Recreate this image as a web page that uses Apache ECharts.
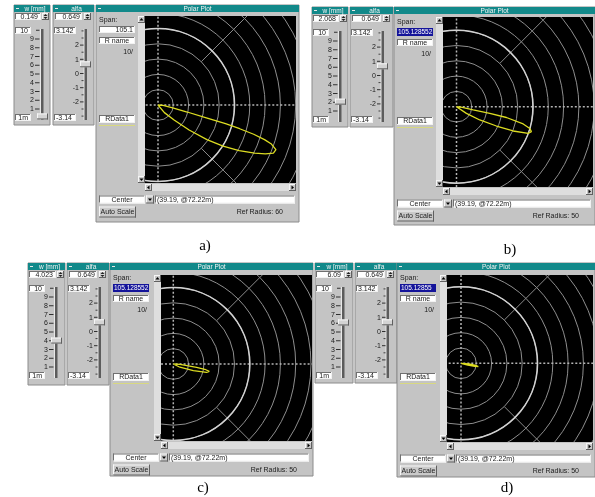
<!DOCTYPE html>
<html><head><meta charset="utf-8">
<script src="https://cdn.jsdelivr.net/npm/echarts@6/dist/echarts.min.js"></script>
<style>
html,body{margin:0;padding:0;background:#fff;width:595px;height:497px;overflow:hidden;}
#main{position:absolute;left:0;top:0;width:595px;height:497px;}
.plot{position:absolute;}
</style></head><body>
<div id="main"></div>
<script>
// ---------------- data ----------------
const captions = ['a)', 'b)', 'c)', 'd)'];
const wValues = [0.149, 2.068, 4.023, 6.09];
const wTexts = ['0.149', '2.068', '4.023', '6.09'];
const alfaValues = [0.649, 0.649, 0.649, 0.649];
const alfaTexts = ['0.649', '0.649', '0.649', '0.649'];
const spanTexts = ['105.1', '105.128552', '105.128552', '105.12855'];
const refRadiusTexts = ['Ref Radius: 60', 'Ref Radius: 50', 'Ref Radius: 50', 'Ref Radius: 50'];
const cursorTexts = ['(39.19, @72.22m)', '(39.19, @72.22m)', '(39.19, @72.22m)', '(39.19, @72.22m)'];
const wTickLabels = ['9', '8', '7', '6', '5', '4', '3', '2', '1'];
const wTickValues = [9, 8, 7, 6, 5, 4, 3, 2, 1];
const alfaTickLabels = ['2', '1', '0', '-1', '-2'];
const alfaTickValues = [2, 1, 0, -1, -2];
// lobes: [radius, angle in degrees]
const lobeA = [[0,0],[3.3,-5],[9.8,-11],[19.6,-13.5],[32.7,-14.8],[45.8,-15.5],[55.6,-16.2],[65.4,-17],[73.2,-18],[78.4,-19],[82.4,-20.7],[81.7,-22.6],[77.1,-24.5],[70.6,-26.5],[60.8,-29.3],[50.3,-32.3],[39.2,-35.3],[26.1,-38.8],[14.4,-43],[6.5,-50],[0,0]];
const lobeB = [[0,0],[3,-6],[11.1,-11],[22.2,-11.5],[33.4,-12.2],[45,-14.5],[50,-16.5],[51.6,-18.4],[50,-20.4],[40.3,-23.2],[29,-25.8],[17.5,-29.7],[7.8,-34],[0,0]];
const lobeC = [[0,0],[4.4,-4],[15.4,-8],[20.9,-9.5],[24,-11.5],[22.4,-14],[13.8,-18.4],[4.8,-26],[0,0]];
const lobeD = [[0,0],[5.2,-5],[9.8,-8],[11.5,-10.8],[9.2,-13],[4.6,-15],[0,0]];
const lobes = [lobeA, lobeB, lobeC, lobeD];

// ---------------- layout ----------------
const layout = [
 {w:{x:14,y:5,w:36,h:120}, al:{x:53,y:5,w:41,h:120}, pp:{x:96,y:5,w:203,bottom:222}, blk:{x:145,y:16,w:151,h:167}, c:[158,105], cap:[205,246]},
 {w:{x:312,y:7,w:36,h:120}, al:{x:350,y:7,w:43,h:120}, pp:{x:394,y:7,w:201,bottom:225}, blk:{x:443,y:17,w:150,h:170}, c:[456.5,106.7], cap:[510,250]},
 {w:{x:28,y:263,w:37,h:122}, al:{x:67,y:263,w:42,h:122}, pp:{x:110,y:263,w:203,bottom:476}, blk:{x:161,y:275,w:151,h:166}, c:[173.3,364], cap:[203,488]},
 {w:{x:315,y:263,w:38,h:120}, al:{x:355,y:263,w:42,h:120}, pp:{x:397,y:263,w:198,bottom:477}, blk:{x:447,y:275,w:146,h:167}, c:[461,363.3], cap:[507,488]}
];
const GRAY = '#c4c4c4', TEAL = '#12898a', FONT = '7px "Liberation Sans", Arial, sans-serif';

const G = [];
function rect(x,y,w,h,fill,stroke){G.push({type:'rect',silent:true,shape:{x:x,y:y,width:w,height:h},style:{fill:fill||'none',stroke:stroke||null,lineWidth:1}});}
function line(x1,y1,x2,y2,stroke,lw){G.push({type:'line',silent:true,shape:{x1:x1,y1:y1,x2:x2,y2:y2},style:{stroke:stroke,lineWidth:lw||1}});}
function poly(pts,fill){G.push({type:'polygon',silent:true,shape:{points:pts},style:{fill:fill}});}
function txt(x,y,s,o){o=o||{};const a=o.align||'left';G.push({type:'text',silent:true,style:{text:s,x:x,y:y,fill:o.fill||'#1a1a1a',font:o.font||FONT,align:a,verticalAlign:'middle',textAlign:a,textVerticalAlign:'middle'}});}
function box3d(x,y,w,h,fill,sunken){
  rect(x,y,w,h,fill);
  const tl = sunken ? '#707070' : '#f6f6f6';
  const br = sunken ? '#f2f2f2' : '#606060';
  line(x,y+0.5,x+w,y+0.5,tl); line(x+0.5,y,x+0.5,y+h,tl);
  line(x,y+h-0.5,x+w,y+h-0.5,br); line(x+w-0.5,y,x+w-0.5,y+h,br);
}
function titleBar(x,y,w,title,cx){
  rect(x,y,w,7,TEAL);
  line(x+2,y+3.5,x+5,y+3.5,'#e8e8e8');
  txt(cx!==undefined?cx:x+w/2,y+3.8,title,{fill:'#f4f4f4',align:'center',font:'6.5px "Liberation Sans", Arial, sans-serif'});
}
function spinner(x,y,w,h){
  box3d(x,y,w,h,'#d0d0d0',false);
  poly([[x+w/2,y+1],[x+w/2-2,y+3],[x+w/2+2,y+3]],'#202020');
  poly([[x+w/2,y+h-1],[x+w/2-2,y+h-3],[x+w/2+2,y+h-3]],'#202020');
}
function arrowBtn(x,y,s,dir){
  box3d(x,y,s,s,'#c8c8c8',false);
  const cx=x+s/2, cy=y+s/2;
  if(dir==='up') poly([[cx,cy-1.5],[cx-2,cy+1],[cx+2,cy+1]],'#000');
  if(dir==='down') poly([[cx,cy+1.5],[cx-2,cy-1],[cx+2,cy-1]],'#000');
  if(dir==='left') poly([[cx-1.5,cy],[cx+1,cy-2],[cx+1,cy+2]],'#000');
  if(dir==='right') poly([[cx+1.5,cy],[cx-1,cy-2],[cx-1,cy+2]],'#000');
}

function buildPanel(i){
  const L = layout[i];
  // ---- w box ----
  const b = L.w;
  rect(b.x,b.y,b.w,b.h,GRAY,'#8c8c8c');
  titleBar(b.x,b.y,b.w,'w [mm]',b.x+b.w/2+3);
  box3d(b.x+1,b.y+8,b.w-10,7,'#fff',true);
  txt(b.x+b.w-12,b.y+11.8,wTexts[i],{align:'right'});
  spinner(b.x+b.w-8,b.y+8,7,7);
  box3d(b.x+1,b.y+22,16,7,'#fff',true);
  txt(b.x+14,b.y+25.8,'10',{align:'right'});
  rect(b.x+26.5,b.y+24,3,91,'#5c5c5c');
  line(b.x+26.5,b.y+24,b.x+26.5,b.y+115,'#e8e8e8');
  const yW = v => b.y + 112.75 - v*8.75;
  wTickValues.forEach((v,k)=>{
    txt(b.x+20,yW(v)+0.3,wTickLabels[k],{align:'right'});
    line(b.x+21,yW(v),b.x+25.5,yW(v),'#303030');
  });
  line(b.x+22,yW(10),b.x+25.5,yW(10),'#303030');
  box3d(b.x+1,b.y+109,16,7,'#fff',true);
  txt(b.x+14,b.y+112.8,'1m',{align:'right'});
  box3d(b.x+23,yW(wValues[i])-3,11,6,'#d4d4d4',false);
  // ---- alfa box ----
  const a = L.al;
  rect(a.x,a.y,a.w,a.h,GRAY,'#8c8c8c');
  titleBar(a.x,a.y,a.w,'alfa',a.x+a.w/2+3);
  box3d(a.x+2,a.y+8,a.w-14,7,'#fff',true);
  txt(a.x+a.w-14,a.y+11.8,alfaTexts[i],{align:'right'});
  spinner(a.x+a.w-10,a.y+8,7,7);
  box3d(a.x+1,a.y+22,22,7,'#fff',true);
  txt(a.x+3,a.y+25.8,'3.142');
  rect(a.x+31,a.y+24,3,91,'#5c5c5c');
  line(a.x+31,a.y+24,a.x+31,a.y+115,'#e8e8e8');
  const yA = v => a.y + 68.5 - v*14.2;
  alfaTickValues.forEach((v,k)=>{
    txt(a.x+26,yA(v)+0.3,alfaTickLabels[k],{align:'right'});
    line(a.x+27,yA(v),a.x+30.5,yA(v),'#303030');
  });
  for(let v=-3;v<=3.01;v+=0.5){ if(Math.abs(v-Math.round(v))>0.1 || Math.abs(v)>2.5) line(a.x+28.5,yA(v),a.x+30.5,yA(v),'#404040'); }
  box3d(a.x+1,a.y+109,22,7,'#fff',true);
  txt(a.x+3,a.y+112.8,'-3.14');
  box3d(a.x+27,yA(alfaValues[i])-3,11,6,'#d4d4d4',false);
  // ---- polar panel ----
  const p = L.pp, k = L.blk;
  rect(p.x,p.y,p.w,p.bottom-p.y,GRAY,'#8c8c8c');
  titleBar(p.x,p.y,p.w,'Polar Plot');
  txt(p.x+3,p.y+15.5,'Span:');
  if(i===0){
    box3d(p.x+3,p.y+21,36,7,'#fff',true);
    txt(p.x+37,p.y+24.8,spanTexts[i],{align:'right'});
  } else {
    rect(p.x+3,p.y+21,36,8,'#14149a');
    txt(p.x+4,p.y+25.2,spanTexts[i],{fill:'#fff',font:'6.5px "Liberation Sans", Arial, sans-serif'});
  }
  box3d(p.x+3,p.y+32,36,7,'#fff',true);
  txt(p.x+21,p.y+35.8,'R name',{align:'center'});
  txt(p.x+37,p.y+47,'10/',{align:'right'});
  box3d(p.x+3,p.y+110,36,8,'#fff',true);
  txt(p.x+21,p.y+114.2,'RData1',{align:'center'});
  line(p.x+3,p.y+120.5,p.x+39,p.y+120.5,'#d8d880',1.2);
  // vertical scrollbar
  rect(k.x-7,k.y,7,k.h,'#dedede');
  arrowBtn(k.x-7,k.y,7,'up');
  arrowBtn(k.x-7,k.y+k.h-7,7,'down');
  // horizontal scrollbar
  const sy = k.y+k.h+1;
  rect(k.x,sy,k.w,7,'#dedede');
  arrowBtn(k.x,sy,7,'left');
  arrowBtn(k.x+k.w-7,sy,7,'right');
  // bottom controls
  const bb = k.y+k.h;
  const cy = bb+12.5, ay = bb+23.5;
  box3d(p.x+3,cy,46,8,'#fff',true);
  txt(p.x+26,cy+4.2,'Center',{align:'center'});
  arrowBtn(p.x+50,cy,8,'down');
  box3d(p.x+59,cy,p.w-63,8,'#fff',true);
  txt(p.x+61,cy+4.2,cursorTexts[i]);
  box3d(p.x+3,ay,37,11,'#cacaca',false);
  txt(p.x+21.5,ay+5.8,'Auto Scale',{align:'center'});
  txt(p.x+p.w-16,ay+6,refRadiusTexts[i],{align:'right'});
  // caption
  txt(L.cap[0],L.cap[1],captions[i],{align:'center',fill:'#000',font:'15px "Liberation Serif", "DejaVu Serif", serif'});
}
for(let i=0;i<4;i++) buildPanel(i);

const mainChart = echarts.init(document.getElementById('main'));
mainChart.setOption({backgroundColor:'#ffffff', animation:false, graphic:{elements:G}});

// ---------------- polar plots ----------------
const PX = 1.53;   // pixels per radius unit
const RMAX = 110;
function plotOption(c, lobe){
  return {
    backgroundColor:'#000',
    animation:false,
    polar:[
      {center:[c[0],c[1]], radius:RMAX*PX},
      {center:[c[0],c[1]], radius:50*PX},
      {center:[c[0],c[1]], radius:[40*PX, RMAX*PX]}
    ],
    radiusAxis:[
      {polarIndex:0,type:'value',min:0,max:RMAX,interval:10,axisLine:{show:false},axisTick:{show:false},axisLabel:{show:false},
       splitLine:{show:true,lineStyle:{color:'#8e8e8e',width:1}}},
      {polarIndex:1,type:'value',min:0,max:50,show:false},
      {polarIndex:2,type:'value',min:40,max:RMAX,show:false}
    ],
    angleAxis:[
      {polarIndex:0,type:'value',min:-180,max:180,startAngle:180,clockwise:false,interval:90,axisLine:{show:false},axisTick:{show:false},axisLabel:{show:false},
       splitLine:{show:true,lineStyle:{color:'#b4b4b4',width:1.5,type:[2,2]}}},
      {polarIndex:1,type:'value',min:0,max:360,axisLine:{show:true,lineStyle:{color:'#d2d2d2',width:1.6}},axisTick:{show:false},axisLabel:{show:false},splitLine:{show:false}},
      {polarIndex:2,type:'value',min:0,max:360,startAngle:45,interval:90,axisLine:{show:false},axisTick:{show:false},axisLabel:{show:false},
       splitLine:{show:true,lineStyle:{color:'#8a8a8a',width:1}}}
    ],
    series:[{type:'line',coordinateSystem:'polar',polarIndex:0,data:lobe,showSymbol:false,smooth:false,
      lineStyle:{color:'#dcdc22',width:1.3},clip:false}]
  };
}
layout.forEach((L,i)=>{
  const d = document.createElement('div');
  d.className = 'plot';
  d.style.left = L.blk.x+'px'; d.style.top = L.blk.y+'px';
  d.style.width = L.blk.w+'px'; d.style.height = L.blk.h+'px';
  document.body.appendChild(d);
  const ch = echarts.init(d);
  ch.setOption(plotOption([L.c[0]-L.blk.x, L.c[1]-L.blk.y], lobes[i]));
});
</script>
</body></html>
